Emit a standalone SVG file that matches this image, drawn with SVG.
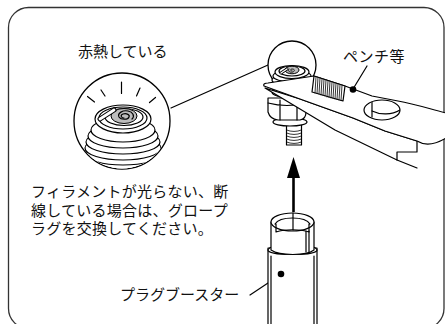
<svg xmlns="http://www.w3.org/2000/svg" width="445" height="324" viewBox="0 0 445 324">
<style>
.ln{fill:none;stroke:#000;stroke-width:1.2;stroke-linecap:round;stroke-linejoin:round}
.thin{fill:none;stroke:#000;stroke-width:0.8;stroke-linecap:round}
.wf{fill:#fff;stroke:#000;stroke-width:1.2;stroke-linejoin:round}
.coil{fill:#bdbdbd;stroke:#000;stroke-width:1}
.t{font-family:"Liberation Sans","Noto Sans CJK JP","Noto Sans CJK SC",sans-serif;font-size:15px;fill:#111}
</style>
<defs>
  <clipPath id="lensClip"><circle cx="122" cy="121" r="47.4"/></clipPath>
  <clipPath id="holeClip"><ellipse cx="382" cy="110" rx="18" ry="10"/></clipPath>
</defs>

<!-- outer frame -->
<rect x="8.5" y="7.5" width="435.5" height="321" rx="20" fill="none" stroke="#333" stroke-width="1.3"/>

<!-- connectors and leaders -->
<g id="connectors">
  <line class="ln" x1="171" y1="108" x2="268" y2="65"/>
  <line class="ln" x1="367" y1="66" x2="353" y2="89"/>
  <line class="ln" x1="250" y1="295" x2="280" y2="275"/>
  <!-- insertion arrow -->
  <line x1="293.5" y1="176" x2="293.5" y2="212" stroke="#000" stroke-width="2.6"/>
  <polygon points="293.5,157 287,178 300,178" fill="#000"/>
</g>

<!-- magnified glowing plug -->
<g id="lens-view">
  <circle cx="122" cy="121" r="48" fill="#fff" stroke="#000" stroke-width="1.3"/>
  <g clip-path="url(#lensClip)">
    <ellipse class="wf" cx="123" cy="166" rx="34" ry="11"/>
    <ellipse class="wf" cx="123" cy="160" rx="36" ry="11"/>
    <ellipse class="wf" cx="123" cy="154" rx="37" ry="11"/>
    <ellipse class="wf" cx="123" cy="148" rx="38" ry="12"/>
    <ellipse class="wf" cx="123" cy="142" rx="37" ry="12"/>
    <ellipse class="wf" cx="123" cy="136" rx="35" ry="12"/>
    <ellipse class="wf" cx="123" cy="130" rx="32" ry="12"/>
    <ellipse class="wf" cx="123" cy="119" rx="28" ry="14"/>
    <ellipse class="ln" cx="123" cy="118" rx="24" ry="11"/>
    <ellipse class="ln" cx="124" cy="117" rx="19" ry="8.5"/>
  </g>
  <!-- filament coil -->
  <ellipse class="coil" cx="124" cy="116" rx="13" ry="7.5"/>
  <path class="ln" d="M124,118 c-3,0 -4,-3 -1,-4 c4,-1 7,1 6,3 c-1,3 -8,3 -10,0 c-2,-4 4,-7 9,-6 c5,1 7,5 4,8"/>
  <line x1="100" y1="119" x2="114" y2="110" stroke="#000" stroke-width="5" stroke-linecap="round"/>
  <line x1="100" y1="119" x2="114" y2="110" stroke="#fff" stroke-width="2.8" stroke-linecap="round"/>
  <!-- glow rays -->
  <path class="ln" d="M87.5,96.5 L94.5,102 M101,90 L105,96 M121.5,82 L121.5,93.5 M140,88 L136.5,96 M155.5,97.5 L149.5,102.5"/>
</g>

<!-- spark plug held by pliers -->
<g id="glow-plug">
  <!-- terminal stud -->
  <rect class="wf" x="286.5" y="124" width="15" height="21"/>
  <path class="thin" d="M286.5,130 q7.5,3 15,0 M286.5,133 q7.5,3 15,0 M286.5,136 q7.5,3 15,0 M286.5,139 q7.5,3 15,0 M286.5,142 q7.5,3 15,0"/>
  <!-- washer -->
  <ellipse class="wf" cx="290" cy="122" rx="17" ry="4"/>
  <!-- hex nut -->
  <path class="wf" d="M268,98 L268,112 Q270,119 278,120 L300,120 Q306,119 306,112 L306,98 Z"/>
  <path class="ln" d="M280,100 L280,120 M297,100 L297,120 M268,103 Q287,108 306,103"/>
  <!-- bulb -->
  <circle cx="292" cy="65" r="24" fill="#fff" stroke="#000" stroke-width="1.3"/>
  <ellipse class="wf" cx="292" cy="92" rx="20" ry="6"/>
  <ellipse class="wf" cx="292" cy="88" rx="20" ry="6"/>
  <ellipse class="wf" cx="292" cy="84" rx="20" ry="6"/>
  <ellipse class="wf" cx="292" cy="80" rx="20" ry="6"/>
  <ellipse class="wf" cx="292" cy="76" rx="19" ry="6"/>
  <ellipse class="wf" cx="292" cy="72" rx="17" ry="6.5"/>
  <ellipse class="ln" cx="292" cy="71" rx="13" ry="5"/>
  <ellipse class="coil" cx="292" cy="70" rx="7" ry="3.8"/>
  <path class="thin" d="M292,71 c-2,0 -2,-2 0,-2 c3,0 3,2 1,3 c-3,1 -6,-1 -4,-3"/>
  <line x1="281" y1="73" x2="287" y2="69" stroke="#000" stroke-width="3" stroke-linecap="round"/>
  <line x1="281" y1="73" x2="287" y2="69" stroke="#fff" stroke-width="1.4" stroke-linecap="round"/>
</g>

<!-- pliers -->
<g id="pliers">
  <!-- lower jaw, ending in a broken grip edge -->
  <path class="wf" d="M265,88 L335,130 L397,160 L397,152 L417,152 L417,141 L385,131 L353,118 L300,99 Z"/>
  <line class="ln" x1="397" y1="160" x2="417" y2="168"/>
  <!-- upper jaw and handle -->
  <path class="wf" d="M264,86 C263,84 265,83 268,83 L314,76 L345,86 L372,96 L398,101 C415,104 430,109 446,113 L446,138 C436,144 425,146 417,141 L385,131 L353,118 L300,99 Z"/>
  <!-- serrated face -->
  <path class="wf" d="M314,76 L345,86 L343,101 L312,92 Z"/>
  <path class="thin" d="M316,77 L315,93 M318,77.5 L317,93.5 M320,78 L319,94 M322,79 L321,95 M324,79.5 L323,95.5 M326,80 L325,96 M328,81 L327,97 M330,81.5 L329,97.5 M332,82 L331,98 M334,83 L333,98.5 M336,83.5 L335,99 M338,84 L337,99.5 M340,85 L339,100 M342,85.5 L341,100.5"/>
  <!-- pivot opening -->
  <ellipse class="wf" cx="382" cy="110" rx="18" ry="10"/>
  <g clip-path="url(#holeClip)">
    <line class="ln" x1="372" y1="96" x2="372" y2="117"/>
    <path class="ln" d="M372,111 C380,115 392,115 400,110"/>
  </g>
  <circle cx="353" cy="89.5" r="3.3" fill="#000"/>
</g>

<!-- plug booster tube -->
<g id="plug-booster">
  <path class="wf" d="M268,248 L268,330 L317,330 L317,248 Z"/>
  <path class="wf" d="M268,250 C268,243 317,243 317,250 C317,256 268,256 268,250 Z"/>
  <path class="wf" d="M271,222 L271,250 C280,256 306,256 314,250 L314,222 Z"/>
  <ellipse class="wf" cx="292.5" cy="222" rx="21.5" ry="9"/>
  <path class="ln" d="M275,224 C280,216 305,216 310,224 M276,224 L276,232 C285,229 300,229 309,232 L309,224"/>
  <line class="ln" x1="293" y1="213" x2="293" y2="230"/>
  <path class="ln" d="M306,231 L306,252 M309,231 L309,253"/>
  <line class="ln" x1="271" y1="256" x2="271" y2="324"/>
  <line class="ln" x1="314" y1="256" x2="314" y2="324"/>
  <circle cx="281" cy="274" r="3.3" fill="#000"/>
</g>

<!-- labels -->
<g id="labels">
  <text class="t" x="78" y="57">赤熱している</text>
  <text class="t" x="343" y="62" letter-spacing="0.5">ペンチ等</text>
  <text class="t" x="31" y="197" letter-spacing="0.25">フィラメントが光らない、断</text>
  <text class="t" x="31" y="215.5" letter-spacing="0.25">線している場合は、グロープ</text>
  <text class="t" x="31" y="234" letter-spacing="0.25">ラグを交換してください。</text>
  <text class="t" x="120" y="300">プラグブースター</text>
</g>
</svg>
